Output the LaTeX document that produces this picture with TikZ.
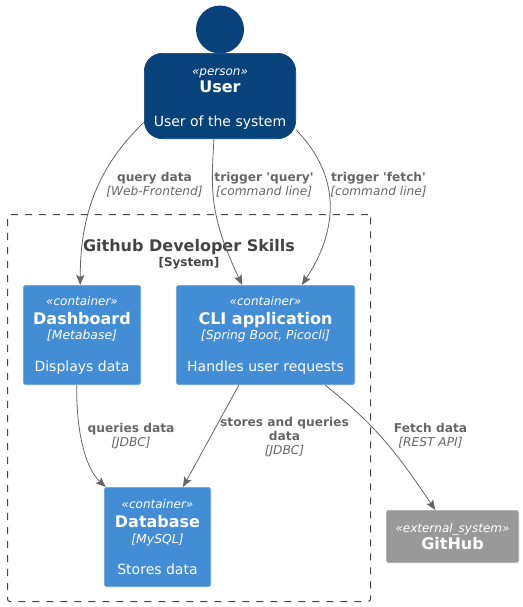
\documentclass[tikz,border=0pt]{standalone}
\usepackage{fontspec}
\setmainfont{DejaVu Sans}
\usetikzlibrary{arrows.meta, positioning}

\definecolor{personblue}{HTML}{08427B}
\definecolor{contblue}{HTML}{438DD5}
\definecolor{extgray}{HTML}{999999}
\definecolor{linegray}{HTML}{666666}
\definecolor{titlegray}{HTML}{444444}

\newcommand{\stereo}[2][7pt]{\rule{0pt}{#1}\fontsize{9}{11}\selectfont\itshape «#2»}
\newcommand{\boxname}[1]{\fontsize{12}{14}\selectfont\bfseries #1}
\newcommand{\boxtech}[1]{\fontsize{9.3}{11}\selectfont\itshape [#1]}
\newcommand{\boxdesc}[1]{\fontsize{10.5}{13}\selectfont #1}
\newcommand{\linkname}[1]{\fontsize{9.15}{10.5}\selectfont\bfseries #1}
\newcommand{\linktech}[1]{\fontsize{9.15}{10.5}\selectfont\itshape [#1]}

\begin{document}
\begin{tikzpicture}[
        x=0.75pt, y=-0.75pt,
        box/.style={
            rectangle, rounded corners=1.9pt, align=center, text=white,
            inner sep=0pt, minimum height=74.5pt, anchor=center, line width=0.5pt
        },
        containerbox/.style={box, draw=contblue!80!white, fill=contblue},
        linklabel/.style={align=center, text=linegray, inner sep=0pt},
        arrow/.style={-{Stealth[length=7.5pt, width=6pt, inset=1.5pt]}, color=linegray, line width=0.6pt}
    ]
        \useasboundingbox (0,0) rectangle (523,607);

        % System boundary
        \node (boundary) [rectangle, draw=titlegray, dash pattern=on 5.25pt off 5.25pt,
            rounded corners=1.9pt, line width=0.75pt, minimum width=272.25pt, minimum height=290.25pt,
            inner sep=0pt] at (189,408) {};
        \node (systitle) [align=center, text=titlegray, inner sep=0pt] at (189,254)
            {\fontsize{12}{14}\selectfont\bfseries Github Developer Skills\\[-0.5pt]
             \fontsize{9}{11}\selectfont\bfseries [System]};

        % Person
        \node (head) [circle, fill=personblue, minimum size=36pt, inner sep=0pt] at (220,29.5) {};
        \node (user) [box, rounded corners=13.5pt, draw=personblue, fill=personblue,
            minimum width=113.5pt, minimum height=64pt] at (220,96)
            {\stereo[9.5pt]{person}\\[1.25pt]\boxname{User}\\[13.25pt]\boxdesc{User of the system}};

        % Containers
        \node (dashboard) [containerbox, minimum width=88pt] at (82,335)
            {\stereo{container}\\[2.5pt]\boxname{Dashboard}\\[-0.5pt]\boxtech{Metabase}\\[11.5pt]\boxdesc{Displays data}};
        \node (cli) [containerbox, minimum width=133.75pt] at (265.5,335)
            {\stereo{container}\\[2.5pt]\boxname{CLI application}\\[-0.5pt]\boxtech{Spring Boot, Picocli}\\[11.5pt]\boxdesc{Handles user requests}};
        \node (database) [containerbox, minimum width=79.75pt] at (157.5,537)
            {\stereo{container}\\[2.5pt]\boxname{Database}\\[-0.5pt]\boxtech{MySQL}\\[11.5pt]\boxdesc{Stores data}};
        \node (github) [box, draw=extgray!80!white, fill=extgray, minimum width=99.25pt, minimum height=39.25pt] at (452.5,536.5)
            {\stereo{external\_system}\\[1pt]\boxname{GitHub}};

        % Connectors
        \draw[arrow] (user.199.4) .. controls (105,160) and (80,205) .. (dashboard.92.3);
        \draw[arrow] (user.262) .. controls (211,190) and (209,215) .. (cli.115.2);
        \draw[arrow] (user.336) .. controls (345,180) and (335,235) .. (cli.54.6);
        \draw[arrow] (dashboard.264.3) .. controls (76,430) and (85,468) .. (database.136.4);
        \draw[arrow] (cli.242.1) -- (database.63);
        \draw[arrow] (cli.320) .. controls (375,425) and (395,450) .. (github.123.4);

        % Connector labels
        \node (lblquery) [linklabel] at (154.5,185) {\linkname{query data}\\[-1.5pt]\linktech{Web-Frontend}};
        \node (lbltrigq) [linklabel] at (264,185) {\linkname{trigger \textquotesingle query\textquotesingle}\\[-1.5pt]\linktech{command line}};
        \node (lbltrigf) [linklabel] at (378.5,185) {\linkname{trigger \textquotesingle fetch\textquotesingle}\\[-1.5pt]\linktech{command line}};
        \node (lbljdbc) [linklabel] at (131,436) {\linkname{queries data}\\[-1.5pt]\linktech{JDBC}};
        \node (lblstore) [linklabel] at (284.5,437) {\linkname{stores and queries}\\[-1.5pt]\linkname{data}\\[-1.5pt]\linktech{JDBC}};
        \node (lblfetch) [linklabel] at (430.5,436) {\linkname{Fetch data}\\[-1.5pt]\linktech{REST API}};

    \end{tikzpicture}
\end{document}
